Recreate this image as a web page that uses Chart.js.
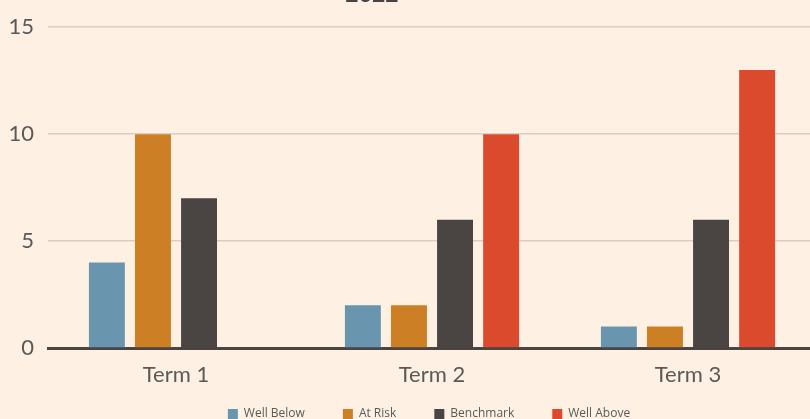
<!DOCTYPE html>
<html>
<head>
<meta charset="utf-8">
<script src="https://cdn.jsdelivr.net/npm/chart.js@4"></script>
<style>
  html, body { margin: 0; padding: 0; background: #FEF0E3; overflow: hidden; }
  #wrap { position: absolute; left: 0; top: 0; width: 830px; height: 419px; }
</style>
</head>
<body>
<div id="wrap"><canvas id="chart"></canvas></div>
<script>
// data
const terms = ["Term 1", "Term 2", "Term 3"];
const wellBelow = [4, 2, 1];
const atRisk = [10, 2, 1];
const benchmark = [7, 6, 6];
const wellAbove = [0, 10, 13];
const chartTitle = "2022";

// title sits mostly above the top edge in the reference
const cutTitle = {
  id: "cutTitle",
  afterDraw(chart) {
    const c = chart.ctx;
    c.save();
    c.font = "bold 23px Lato";
    c.fillStyle = "#4A4542";
    c.textAlign = "center";
    c.textBaseline = "alphabetic";
    c.fillText(chartTitle, 372, 2);
    c.restore();
  }
};

// legend padding is big for the horizontal gaps, so keep its box short
// and slide it down after layout
const shortLegend = {
  id: "shortLegend",
  beforeLayout(chart) {
    const lg = chart.legend;
    if (lg && !lg._short) {
      const fit = lg.fit;
      lg.fit = function () { fit.call(this); this.height = 31; };
      lg._short = true;
    }
  },
  afterLayout(chart) {
    const lg = chart.legend;
    if (lg) {
      lg.top = 370;
      lg.bottom = 419;
      lg.height = 49;
      lg.left -= 3;
      lg.right -= 3;
    }
  }
};

const ctx = document.getElementById("chart").getContext("2d");

new Chart(ctx, {
  type: "bar",
  data: {
    labels: terms,
    datasets: [
      { label: "Well Below", data: wellBelow, backgroundColor: "#6A95AE" },
      { label: "At Risk", data: atRisk, backgroundColor: "#CD7F26" },
      { label: "Benchmark", data: benchmark, backgroundColor: "#4A4542" },
      { label: "Well Above", data: wellAbove, backgroundColor: "#DB4A2C" }
    ]
  },
  options: {
    responsive: true,
    maintainAspectRatio: false,
    animation: false,
    categoryPercentage: 0.72,
    barPercentage: 0.78,
    layout: { padding: { top: 17, right: 14, left: 0, bottom: 0 } },
    scales: {
      x: {
        grid: { display: false },
        border: { color: "#4A4542", width: 3 },
        ticks: { color: "#595959", font: { family: "Lato", size: 22 }, padding: 6 },
        afterFit(scale) { scale.height = 40; }
      },
      y: {
        min: 0,
        max: 15,
        ticks: { stepSize: 5, color: "#595959", font: { family: "Lato", size: 22 }, padding: 14 },
        grid: { color: "#D9CEC2", lineWidth: 1.5, drawTicks: false },
        border: { display: false },
        afterFit(scale) { scale.width = 48; }
      }
    },
    plugins: {
      legend: {
        position: "bottom",
        fullSize: false,
        labels: {
          boxWidth: 10,
          boxHeight: 10,
          padding: 38,
          color: "#595959",
          font: { family: "Open Sans", size: 12 }
        }
      },
      tooltip: { enabled: false }
    }
  },
  plugins: [cutTitle, shortLegend]
});
</script>
</body>
</html>
